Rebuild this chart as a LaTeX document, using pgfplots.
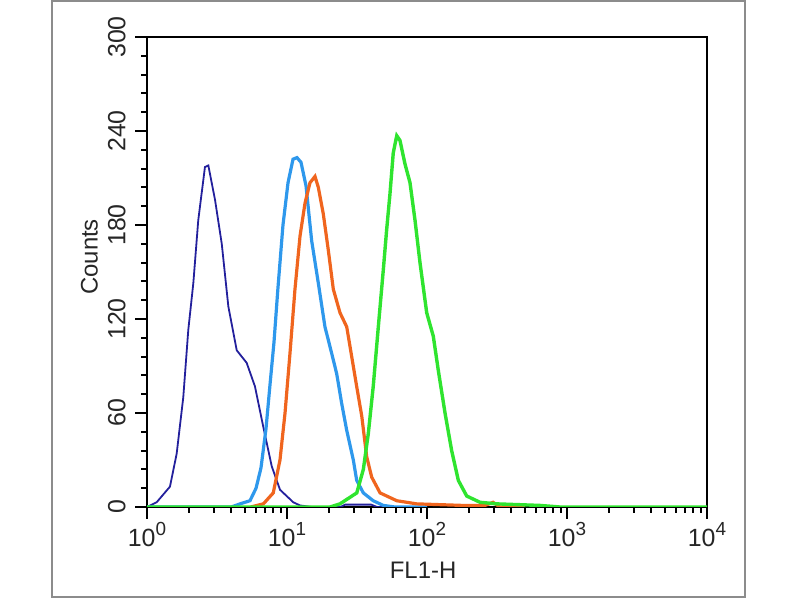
\documentclass[border=0pt]{standalone}
\usepackage{pgfplots}
\pgfplotsset{compat=1.18}
\usepackage{fontspec}
\setmainfont{Liberation Sans}
\definecolor{cnavy}{HTML}{23209C}
\definecolor{csky}{HTML}{2E98EC}
\definecolor{corange}{HTML}{F0651E}
\definecolor{cgreen}{HTML}{2FE42F}
\newcommand{\ex}[1]{10\raisebox{0.42em}{\fontsize{19}{19}\selectfont #1}}
\begin{document}
\begin{tikzpicture}[x=1bp,y=1bp]
\useasboundingbox (0,0) rectangle (800,600);
\draw[color=black!45, line width=2.2bp] (52,3) rectangle (745,599);
\begin{axis}[
  at={(147bp,93bp)}, anchor=south west,
  scale only axis, width=560bp, height=470bp,
  xmode=log, xmin=1, xmax=10000, ymin=0, ymax=300,
  /pgf/number format/assume math mode=true,
  xtick={1,10,100,1000,10000},
  xticklabels={\ex{0},\ex{1},\ex{2},\ex{3},\ex{4}},
  minor xtick={2,3,4,5,6,7,8,9,20,30,40,50,60,70,80,90,200,300,400,500,600,700,800,900,2000,3000,4000,5000,6000,7000,8000,9000},
  ytick={0,60,120,180,240,300},
  minor ytick={12,24,36,48,72,84,96,108,132,144,156,168,192,204,216,228,252,264,276,288},
  tick pos=left, tick align=outside,
  major tick length=12bp, minor tick length=6bp,
  every tick/.style={black, line width=2bp},
  axis line style={line width=1.8bp},
  ticklabel style={font=\fontsize{25}{26}\selectfont, text=black!85},
  yticklabel style={rotate=90, anchor=south, yshift=6bp},
  xlabel={FL1-H}, ylabel={Counts},
  label style={font=\fontsize{24}{25}\selectfont, text=black!85},
  xlabel style={at={(axis description cs:0.493,-0.134)}, anchor=center},
  ylabel style={at={(axis description cs:-0.103,0.532)}, anchor=center, rotate=0},
  clip=true,
]
% navy
\addplot[cnavy, line width=1.8bp] coordinates {
(1.0,0) (1.172,3) (1.459,13) (1.629,34) (1.816,70) (1.972,113) (2.143,143) (2.323,183)
(2.594,217) (2.742,218) (3.062,196) (3.420,168) (3.811,128) (4.375,100) (5.152,92)
(5.902,77) (6.776,51) (7.780,26) (8.913,11) (11.09,3) (12.39,1) (15,0) (24,0) (26,1.5) (40,1.5) (44,0) (60,0)
};
% sky
\addplot[csky, line width=3.2bp] coordinates {
(1.0,0) (4.0,0) (4.62,2) (5.44,4) (6.01,12) (6.52,25) (7.08,50) (7.56,78) (8.07,105)
(8.62,140) (9.36,180) (10.17,207) (11.04,222) (11.78,223) (12.59,220) (13.67,205)
(15.0,170) (16.73,143) (18.67,115) (20.86,98) (22.65,85) (24.59,66) (26.69,49)
(29.77,30) (31.47,17) (35.08,9) (41.3,4) (48.73,1) (59.0,0) (100,0)
};
% orange
\addplot[corange, line width=3.2bp] coordinates {
(5.5,0) (6.78,2) (7.98,9) (8.91,30) (9.68,60) (10.5,98) (11.4,139) (12.39,173)
(13.45,194) (14.6,207) (15.85,211) (16.74,204) (18.17,187) (19.72,164) (21.42,139)
(23.9,124) (26.7,115) (28.98,96) (31.45,77) (34.2,58) (37.1,32) (40.3,19) (46.2,9)
(60.8,4) (84.4,2) (180.7,1) (260,1) (296,3) (332,0) (500,0)
};
% green
\addplot[cgreen, line width=3.4bp] coordinates {
(1.0,0) (20.3,0) (23.9,2) (31.5,9) (35.1,24) (38.1,47) (41.3,77) (44.9,115) (48.7,151)
(51.5,177) (54.4,200) (57.4,226) (60.8,237) (64.1,234) (69.6,219) (75.6,207)
(82.1,183) (89.1,156) (99.5,124) (110.9,109) (120.5,87) (134.5,60) (150.0,36)
(167.4,17) (192.2,7) (239.1,3) (314.6,2) (641,1) (891,0) (10000,0)
};
\end{axis}
\end{tikzpicture}
\end{document}
